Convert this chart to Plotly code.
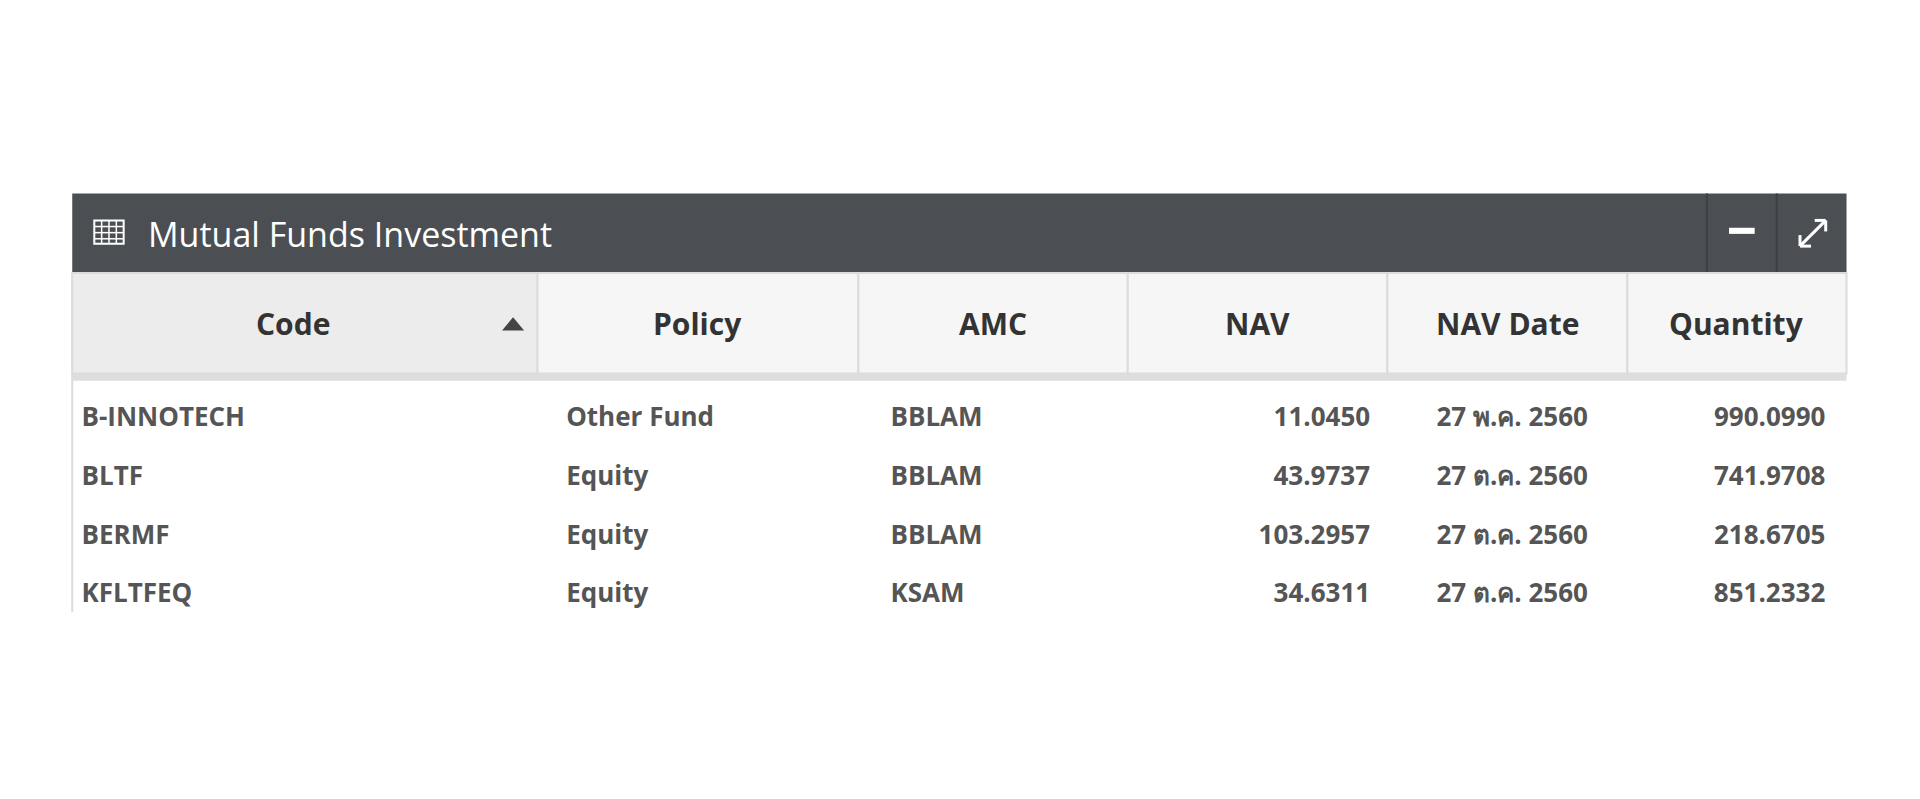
import plotly.graph_objects as go

codes = ['B-INNOTECH', 'BLTF', 'BERMF', 'KFLTFEQ']
policies = ['Other Fund', 'Equity', 'Equity', 'Equity']
amcs = ['BBLAM', 'BBLAM', 'BBLAM', 'KSAM']
navs = ['11.0450', '43.9737', '103.2957', '34.6311']
nav_dates = ['27 พ.ค. 2560', '27 ต.ค. 2560', '27 ต.ค. 2560', '27 ต.ค. 2560']
quantities = ['990.0990', '741.9708', '218.6705', '851.2332']
headers = ['Code', 'Policy', 'AMC', 'NAV', 'NAV Date', 'Quantity']

W, H = 1920, 799
S = 1920 / 1568  # reference was measured at this scale


def px(v):
    # page body has an 8px margin
    return v * S - 8


left, right = px(59), px(1508)
bar_top, bar_bot = px(158), px(223)
head_bot = px(305)
head_edges = [59, 439, 701, 921, 1133, 1329, 1508]
body_edges = [60, 456, 721, 900, 1126, 1345, 1498]
body_widths = [b - a for a, b in zip(body_edges[:-1], body_edges[1:])]

fig = go.Figure()

fig.add_trace(go.Table(
    domain=dict(x=[px(body_edges[0]) / W, px(body_edges[-1]) / W],
                y=[1 - px(500) / H, 1 - bar_bot / H]),
    columnwidth=body_widths,
    header=dict(
        values=[''] * len(headers),
        fill_color='white', line_color='white',
        height=px(305 - 223 + 20),
    ),
    cells=dict(
        values=[[f'<b>{v}</b>' for v in col]
                for col in [codes, policies, amcs, navs, nav_dates, quantities]],
        fill_color='white', line_color='white',
        align=['left', 'left', 'left', 'right', 'center', 'right'],
        height=px(48) + 8,
        font=dict(family='Open Sans', size=26, color='#555555'),
    ),
))

shapes = [
    dict(type='rect', x0=left, x1=right, y0=bar_top, y1=bar_bot,
         fillcolor='#4b4e53', line_width=0),
    dict(type='rect', x0=left, x1=right, y0=head_bot, y1=px(311),
         fillcolor='#dedede', line_width=0, layer='above'),
    dict(type='line', x0=left, x1=left, y0=bar_bot, y1=px(500),
         line=dict(color='#dcdcdc', width=2)),
    dict(type='line', x0=px(1394), x1=px(1394), y0=bar_top, y1=bar_bot,
         line=dict(color='#3c3f43', width=2)),
    dict(type='line', x0=px(1451), x1=px(1451), y0=bar_top, y1=bar_bot,
         line=dict(color='#3c3f43', width=2)),
    dict(type='rect', x0=px(1412), x1=px(1433), y0=px(186), y1=px(191),
         fillcolor='white', line_width=0),
]
annotations = [dict(x=px(119), y=px(191), xref='x', yref='y', text='Mutual Funds Investment',
                    showarrow=False, xanchor='left', yanchor='middle',
                    font=dict(family='Open Sans', size=34, color='white'))]

# header cells
for i, h in enumerate(headers):
    x0, x1 = px(head_edges[i]), px(head_edges[i + 1])
    shapes.append(dict(type='rect', x0=x0, x1=x1, y0=bar_bot, y1=head_bot,
                       fillcolor='#ececec' if i == 0 else '#f6f6f6',
                       line=dict(color='#dcdcdc', width=2), layer='above'))
    cx = (x0 + x1) / 2 - (12 if i == 0 else 0)
    annotations.append(dict(x=cx, y=px(264), xref='x', yref='y', text=f'<b>{h}</b>',
                            showarrow=False, xanchor='center', yanchor='middle',
                            font=dict(family='Open Sans', size=30, color='#333333')))

# sort arrow
shapes.append(dict(type='path',
                   path=f'M {px(410)},{px(270)} L {px(428)},{px(270)} L {px(419)},{px(259)} Z',
                   fillcolor='#444444', line_width=0, layer='above'))
# expand icon
for a, b, c, d in [(1471, 200, 1490, 181), (1470, 192, 1470, 201), (1470, 201, 1479, 201),
                   (1491, 189, 1491, 180), (1491, 180, 1482, 180)]:
    shapes.append(dict(type='line', x0=px(a), y0=px(b), x1=px(c), y1=px(d),
                       line=dict(color='white', width=3)))
# table icon
shapes.append(dict(type='rect', x0=px(77), x1=px(101), y0=px(180), y1=px(199),
                   fillcolor='rgba(0,0,0,0)', line=dict(color='white', width=2)))
for gx in [83, 89, 95]:
    shapes.append(dict(type='line', x0=px(gx), x1=px(gx), y0=px(180), y1=px(199),
                       line=dict(color='white', width=1.5)))
for gy in [185, 190, 195]:
    shapes.append(dict(type='line', x0=px(77), x1=px(101), y0=px(gy), y1=px(gy),
                       line=dict(color='white', width=1.5)))

fig.update_layout(
    width=W, height=H,
    margin=dict(l=0, r=0, t=0, b=0),
    paper_bgcolor='white', plot_bgcolor='rgba(0,0,0,0)',
    xaxis=dict(range=[0, W], visible=False, fixedrange=True),
    yaxis=dict(range=[H, 0], visible=False, fixedrange=True),
    shapes=shapes,
    annotations=annotations,
    showlegend=False,
)

fig.write_html('out.html')
